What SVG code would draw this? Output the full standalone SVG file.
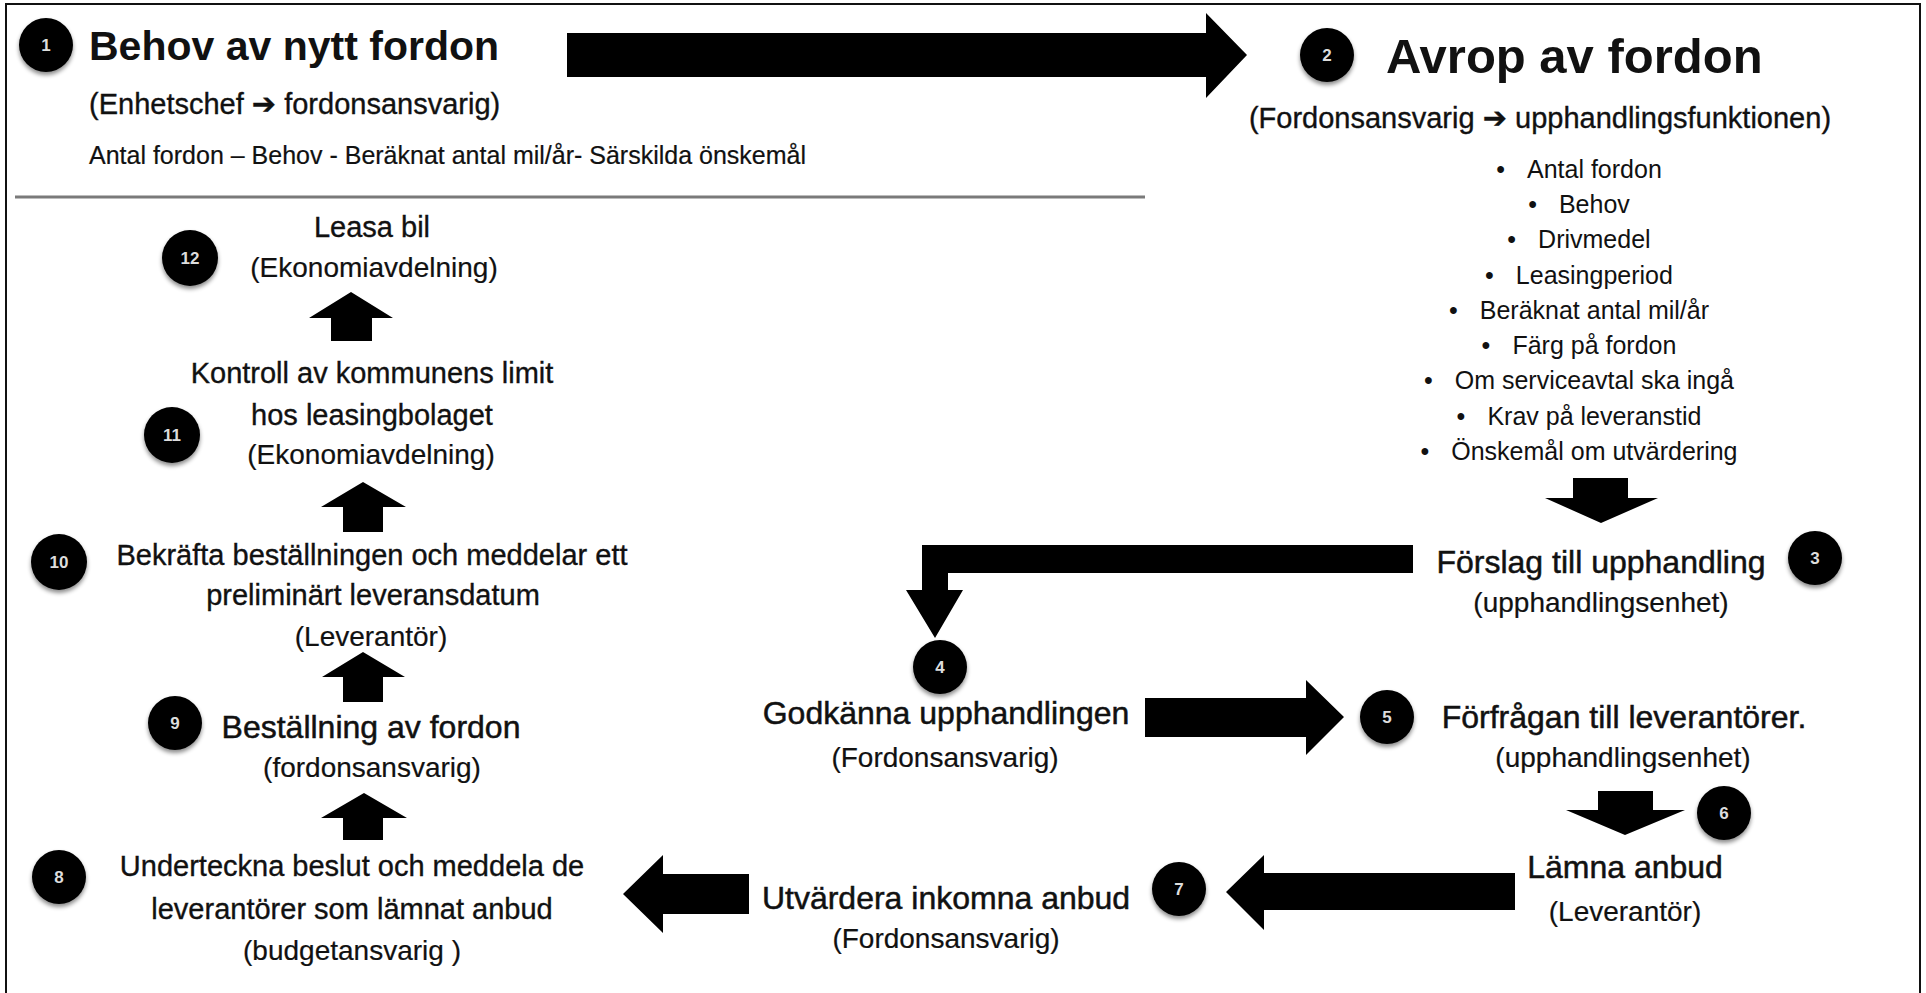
<svg xmlns="http://www.w3.org/2000/svg" width="1926" height="993" viewBox="0 0 1926 993">
<defs>
<filter id="sh" x="-40%" y="-40%" width="180%" height="190%">
<feDropShadow dx="0" dy="3" stdDeviation="2.2" flood-color="#000" flood-opacity="0.45"/>
</filter>
<style>
.t{font-family:"Liberation Sans",Arial,"DejaVu Sans",sans-serif;fill:#111;}
.m{text-anchor:middle;}
.st{font-size:32px;stroke:#111;stroke-width:0.5px;}
.sl{font-size:29px;stroke:#111;stroke-width:0.35px;}
.sub{font-size:28px;stroke:#111;stroke-width:0.2px;}
.li{font-size:25px;text-anchor:middle;}
.dot{fill:#050505;filter:url(#sh);}
.num{font-family:"Liberation Sans",Arial,sans-serif;font-weight:bold;font-size:17px;fill:#ddd;text-anchor:middle;}
.arr{fill:#000;}
</style>
</defs>
<rect x="0" y="0" width="1926" height="993" fill="#fff"/>
<rect x="6" y="4" width="1914" height="1000" fill="none" stroke="#111" stroke-width="2"/>
<line x1="15" y1="197" x2="1145" y2="197" stroke="#7a7a7a" stroke-width="3"/>

<g id="connectors">
<polygon class="arr" points="567,33 1206,33 1206,13 1247,55 1206,98 1206,77 567,77"/>
<polygon class="arr" points="1573,478 1628,478 1628,498 1658,498 1601,523 1545,498 1573,498"/>
<polygon class="arr" points="1413,545 922,545 922,590 906,590 935,638 963,590 948,590 948,573 1413,573"/>
<polygon class="arr" points="1145,698 1306,698 1306,680 1344,717 1306,755 1306,737 1145,737"/>
<polygon class="arr" points="1598,791 1653,791 1653,810 1685,810 1625,835 1566,810 1598,810"/>
<polygon class="arr" points="1515,873 1264,873 1264,855 1226,892 1264,930 1264,910 1515,910"/>
<polygon class="arr" points="749,874 663,874 663,855 623,894 663,933 663,914 749,914"/>
<polygon class="arr" points="343,840 343,818 321,818 364,793 407,818 383,818 383,840"/>
<polygon class="arr" points="343,702 343,677 322,677 363,652 405,677 383,677 383,702"/>
<polygon class="arr" points="343,532 343,507 321,507 363,482 406,507 383,507 383,532"/>
<polygon class="arr" points="331,341 331,318 309,318 351,292 393,318 372,318 372,341"/>
</g>

<g id="node1">
<circle class="dot" cx="46" cy="45" r="27"/>
<text class="num" x="46" y="51">1</text>
<text class="t" x="89" y="60" font-size="41" font-weight="bold">Behov av nytt fordon</text>
<text class="t sl" x="89" y="114">(Enhetschef ➔ fordonsansvarig)</text>
<text class="t" x="89" y="164" font-size="25" stroke="#111" stroke-width="0.2">Antal fordon – Behov - Beräknat antal mil/år- Särskilda önskemål</text>
</g>

<g id="node2">
<circle class="dot" cx="1327" cy="55" r="27"/>
<text class="num" x="1327" y="61">2</text>
<text class="t" x="1386" y="73" font-size="49" font-weight="bold">Avrop av fordon</text>
<text class="t m sl" x="1540" y="128">(Fordonsansvarig ➔ upphandlingsfunktionen)</text>
<text class="t li" x="1579" y="178"><tspan>•</tspan><tspan dx="22">Antal fordon</tspan></text>
<text class="t li" x="1579" y="213"><tspan>•</tspan><tspan dx="22">Behov</tspan></text>
<text class="t li" x="1579" y="248"><tspan>•</tspan><tspan dx="22">Drivmedel</tspan></text>
<text class="t li" x="1579" y="284"><tspan>•</tspan><tspan dx="22">Leasingperiod</tspan></text>
<text class="t li" x="1579" y="319"><tspan>•</tspan><tspan dx="22">Beräknat antal mil/år</tspan></text>
<text class="t li" x="1579" y="354"><tspan>•</tspan><tspan dx="22">Färg på fordon</tspan></text>
<text class="t li" x="1579" y="389"><tspan>•</tspan><tspan dx="22">Om serviceavtal ska ingå</tspan></text>
<text class="t li" x="1579" y="425"><tspan>•</tspan><tspan dx="22">Krav på leveranstid</tspan></text>
<text class="t li" x="1579" y="460"><tspan>•</tspan><tspan dx="22">Önskemål om utvärdering</tspan></text>
</g>

<g id="node3">
<circle class="dot" cx="1815" cy="558" r="27"/>
<text class="num" x="1815" y="564">3</text>
<text class="t m st" x="1601" y="573" font-size="33">Förslag till upphandling</text>
<text class="t m sub" x="1601" y="612" font-size="28.5">(upphandlingsenhet)</text>
</g>

<g id="node4">
<circle class="dot" cx="940" cy="667" r="27"/>
<text class="num" x="940" y="673">4</text>
<text class="t m st" x="946" y="724">Godkänna upphandlingen</text>
<text class="t m sub" x="945" y="767" font-size="27.5">(Fordonsansvarig)</text>
</g>

<g id="node5">
<circle class="dot" cx="1387" cy="717" r="27"/>
<text class="num" x="1387" y="723">5</text>
<text class="t m st" x="1624" y="728" font-size="32.5">Förfrågan till leverantörer.</text>
<text class="t m sub" x="1623" y="767" font-size="28.5">(upphandlingsenhet)</text>
</g>

<g id="node6">
<circle class="dot" cx="1724" cy="813" r="27"/>
<text class="num" x="1724" y="819">6</text>
<text class="t m st" x="1625" y="878" font-size="31">Lämna anbud</text>
<text class="t m sub" x="1625" y="921">(Leverantör)</text>
</g>

<g id="node7">
<circle class="dot" cx="1179" cy="889" r="27"/>
<text class="num" x="1179" y="895">7</text>
<text class="t m st" x="946" y="909">Utvärdera inkomna anbud</text>
<text class="t m sub" x="946" y="948" font-size="27.5">(Fordonsansvarig)</text>
</g>

<g id="node8">
<circle class="dot" cx="59" cy="877" r="27"/>
<text class="num" x="59" y="883">8</text>
<text class="t m sl" x="352" y="876" font-size="28.5">Underteckna beslut och meddela de</text>
<text class="t m sl" x="352" y="919" font-size="28.5">leverantörer som lämnat anbud</text>
<text class="t m sub" x="352" y="960" font-size="26.5">(budgetansvarig )</text>
</g>

<g id="node9">
<circle class="dot" cx="175" cy="723" r="27"/>
<text class="num" x="175" y="729">9</text>
<text class="t m st" x="371" y="738">Beställning av fordon</text>
<text class="t m sub" x="372" y="777">(fordonsansvarig)</text>
</g>

<g id="node10">
<circle class="dot" cx="59" cy="562" r="28"/>
<text class="num" x="59" y="568">10</text>
<text class="t m sl" x="372" y="565">Bekräfta beställningen och meddelar ett</text>
<text class="t m sl" x="373" y="605">preliminärt leveransdatum</text>
<text class="t m sub" x="371" y="646">(Leverantör)</text>
</g>

<g id="node11">
<circle class="dot" cx="172" cy="435" r="28"/>
<text class="num" x="172" y="441">11</text>
<text class="t m sl" x="372" y="383">Kontroll av kommunens limit</text>
<text class="t m sl" x="372" y="425">hos leasingbolaget</text>
<text class="t m sub" x="371" y="464">(Ekonomiavdelning)</text>
</g>

<g id="node12">
<circle class="dot" cx="190" cy="258" r="28"/>
<text class="num" x="190" y="264">12</text>
<text class="t m sl" x="372" y="237" font-size="28">Leasa bil</text>
<text class="t m sub" x="374" y="277">(Ekonomiavdelning)</text>
</g>
</svg>
